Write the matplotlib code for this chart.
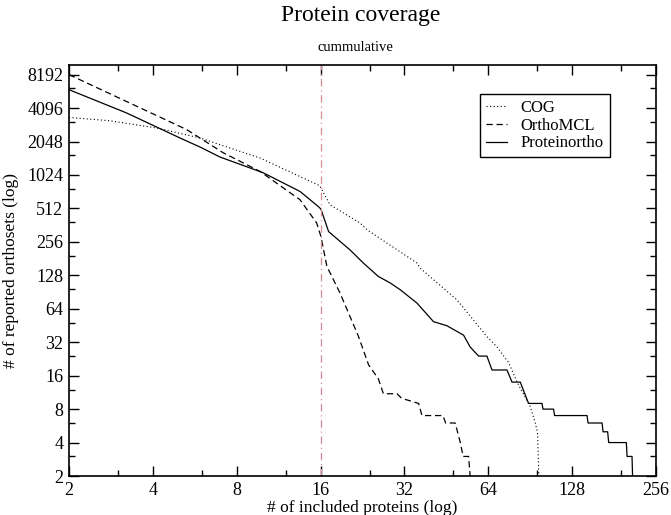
import numpy as np
import matplotlib
matplotlib.use("Agg")
import matplotlib.pyplot as plt
from matplotlib.ticker import FixedLocator, NullFormatter

# Values (cumulative counts)
cog_x = [2, 2.8, 4.13, 5.91, 9.71, 15.9, 17.3, 22.2, 23.5, 35.5, 36.5, 49.4,
         63.3, 68.8, 75.7, 81.2, 90.6, 94.4, 96.2, 97, 98]
cog_y = [3375, 3150, 2710, 2202, 1454, 819, 552, 378, 329, 165, 148, 77,
         36, 29, 21, 14, 8.4, 6, 4.9, 2.4, 1]

orthomcl_x = [2, 5.3, 7.15, 9.71, 13.5, 15.5, 16.05, 16.86, 18.8, 21.9, 23.8,
              25.8, 26.9, 30.1, 31.3, 36, 37, 44, 45, 48.7, 50.8, 52, 54.4,
              55.1, 56]
orthomcl_y = [8192, 2616, 1624, 1101, 613, 378, 286, 154, 88.5, 36, 20,
              15, 11, 11, 10, 9, 7, 7, 6, 6, 4, 3, 3, 2, 1]

proteinortho_x = [2, 3.22, 5.01, 5.91, 6.97, 9.95, 13.5, 15.7, 16.05, 17.1,
                  20.4, 22.8, 25.8, 28.5, 30.9, 35.5, 40.7, 45.5, 52.2, 55.1,
                  59.1, 63.3, 66, 74.7, 77.9, 83.4, 89.3, 99.8, 100.6, 109.8,
                  110.7, 144.8, 146, 164, 165.3, 171.7, 173.2, 200.4, 201.6,
                  210, 211, 212]
proteinortho_y = [5995, 3700, 2202, 1827, 1485, 1073, 728, 533, 505, 317,
                  217, 165, 125, 109, 95, 72, 49, 45, 37, 29,
                  24, 24, 18, 18, 14, 14, 9, 9, 8, 8,
                  7, 7, 6, 6, 5, 5, 4, 4, 3,
                  3, 2, 1]

cutoff_x = 16
major_ticks = [2 ** k for k in range(1, 14)]
minor_ticks = [3 * 2 ** k for k in range(0, 13)]

plt.rcParams['font.family'] = ['Liberation Serif', 'DejaVu Serif']

fig = plt.figure(figsize=(6.71, 5.15), dpi=100)
ax = fig.add_axes([0.1028, 0.0757, 0.9776 - 0.1028, 0.8738 - 0.0757])

ax.plot(cog_x, cog_y, color='black', linewidth=0.8, linestyle=(0, (1, 2.2)), label='COG')
ax.plot(orthomcl_x, orthomcl_y, color='black', linewidth=0.9, linestyle=(0, (5, 3)), label='OrthoMCL')
ax.plot(proteinortho_x, proteinortho_y, color='black', linewidth=0.9, label='Proteinortho')
# cut-off marker at 16 proteins
ax.axvline(cutoff_x, color='#d88a96', linewidth=0.9, linestyle=(0, (6, 3, 1, 3)))

ax.set_xscale('log', base=2)
ax.set_yscale('log', base=2)
ax.set_xlim(2, 256)
ax.set_ylim(2, 10000)

ax.xaxis.set_major_locator(FixedLocator(major_ticks[:8]))
ax.yaxis.set_major_locator(FixedLocator(major_ticks))
ax.xaxis.set_minor_locator(FixedLocator(minor_ticks))
ax.yaxis.set_minor_locator(FixedLocator(minor_ticks))
ax.set_xticklabels([str(v) for v in major_ticks[:8]])
ax.set_yticklabels([str(v) for v in major_ticks])
ax.xaxis.set_minor_formatter(NullFormatter())
ax.yaxis.set_minor_formatter(NullFormatter())

ax.tick_params(which='both', direction='in', top=True, right=True, labelsize=13, width=1.0)
ax.tick_params(which='major', length=7.5, pad=4)
ax.tick_params(which='minor', length=4.5)
for s in ax.spines.values():
    s.set_linewidth(1.2)

ax.set_xlabel('# of included proteins (log)', fontsize=12.5, labelpad=1)
ax.set_ylabel('# of reported orthosets (log)', fontsize=12.5, labelpad=6)

fig.text(0.537, 0.970, 'Protein coverage', ha='center', va='center', fontsize=17)
fig.text(0.530, 0.908, 'cummulative', ha='center', va='center', fontsize=10.5)

leg = ax.legend(loc='upper left', bbox_to_anchor=(0.70, 0.929), borderaxespad=0,
                fontsize=12, fancybox=False, framealpha=1, edgecolor='black',
                handlelength=1.3, handletextpad=0.8, labelspacing=0.1,
                borderpad=0.35)
leg.get_frame().set_linewidth(1.0)

fig.savefig('out.png', dpi=100)
